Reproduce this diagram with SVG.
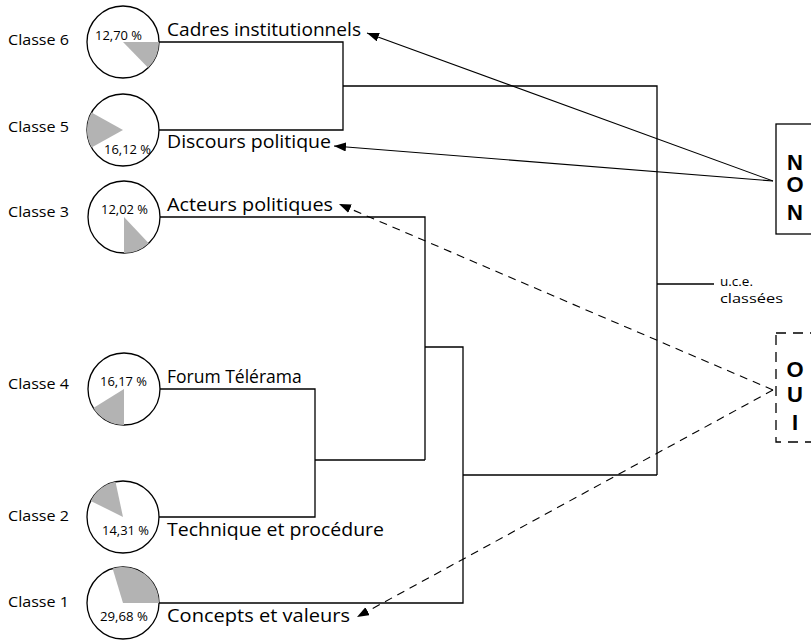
<svg xmlns="http://www.w3.org/2000/svg" width="811" height="642" viewBox="0 0 811 642">
<style>
.ln{fill:none;stroke:#000;stroke-width:1.3}
.ar{fill:none;stroke:#000;stroke-width:1.1}
.da{fill:none;stroke:#000;stroke-width:1.1;stroke-dasharray:8 6}
.pie{fill:#fff;stroke:#000;stroke-width:1.3}
.wd{fill:#b3b3b3;stroke:none}
.cl{font-family:"Open Sans","Noto Sans",sans-serif;font-size:14px;fill:#000}
.uc{font-family:"Open Sans","Noto Sans",sans-serif;font-size:13.5px;fill:#000}
.nm{font-family:"Open Sans","Noto Sans",sans-serif;font-size:17.5px;fill:#000}
.pc{font-family:"Open Sans","Noto Sans",sans-serif;font-size:12.5px;fill:#000}
.bx{font-family:"Liberation Sans",Arial,sans-serif;font-weight:bold;font-size:22px;fill:#000;text-anchor:middle}
</style>
<defs>
<marker id="ah" markerUnits="userSpaceOnUse" markerWidth="14" markerHeight="10" refX="12" refY="4.5" orient="auto">
<path d="M0,0 L12,4.5 L0,9 Z" fill="#000"/>
</marker>
</defs>
<rect width="811" height="642" fill="#fff"/>
<g id="connectors">
<path class="ln" d="M159,42 H343 V130 H159"/>
<path class="ln" d="M343,86 H657 V475"/>
<path class="ln" d="M159,217 H425 V460"/>
<path class="ln" d="M159,389 H315 V517 H159"/>
<path class="ln" d="M315,460 H425"/>
<path class="ln" d="M425,347 H463 V603 H159"/>
<path class="ln" d="M463,475 H657"/>
<path class="ln" d="M657,284 H714"/>
<line class="ar" x1="773" y1="181" x2="367" y2="33" marker-end="url(#ah)"/>
<line class="ar" x1="773" y1="181" x2="334" y2="146" marker-end="url(#ah)"/>
<line class="da" x1="773" y1="390" x2="339" y2="204" marker-end="url(#ah)"/>
<line class="da" x1="773" y1="390" x2="357" y2="617" marker-end="url(#ah)"/>
</g>
<g id="classe6">
<text class="cl" x="8" y="45" textLength="61" lengthAdjust="spacingAndGlyphs">Classe 6</text>
<circle class="pie" cx="123" cy="42" r="36"/>
<path class="wd" d="M123,42 L159,42 A36,36 0 0 1 148.1,67.8 Z"/>
<text class="pc" x="95" y="40" textLength="47" lengthAdjust="spacingAndGlyphs">12,70 %</text>
<text class="nm" x="167" y="36" textLength="194" lengthAdjust="spacingAndGlyphs">Cadres institutionnels</text>
</g>
<g id="classe5">
<text class="cl" x="8" y="132" textLength="61" lengthAdjust="spacingAndGlyphs">Classe 5</text>
<circle class="pie" cx="123" cy="130" r="36"/>
<path class="wd" d="M123,130 L91.5,147.5 A36,36 0 0 1 91.5,112.5 Z"/>
<text class="pc" x="104" y="154" textLength="47" lengthAdjust="spacingAndGlyphs">16,12 %</text>
<text class="nm" x="167" y="148" textLength="164" lengthAdjust="spacingAndGlyphs">Discours politique</text>
</g>
<g id="classe3">
<text class="cl" x="8" y="217" textLength="61" lengthAdjust="spacingAndGlyphs">Classe 3</text>
<circle class="pie" cx="124" cy="217" r="36"/>
<path class="wd" d="M124,217 L148.7,243.2 A36,36 0 0 1 124,253 Z"/>
<text class="pc" x="101" y="214" textLength="47" lengthAdjust="spacingAndGlyphs">12,02 %</text>
<text class="nm" x="167" y="211" textLength="166" lengthAdjust="spacingAndGlyphs">Acteurs politiques</text>
</g>
<g id="classe4">
<text class="cl" x="8" y="389" textLength="61" lengthAdjust="spacingAndGlyphs">Classe 4</text>
<circle class="pie" cx="124" cy="389" r="36"/>
<path class="wd" d="M124,389 L124,425 A36,36 0 0 1 93.4,408 Z"/>
<text class="pc" x="100" y="386" textLength="47" lengthAdjust="spacingAndGlyphs">16,17 %</text>
<text class="nm" x="167" y="383">Forum Télérama</text>
</g>
<g id="classe2">
<text class="cl" x="8" y="521" textLength="61" lengthAdjust="spacingAndGlyphs">Classe 2</text>
<circle class="pie" cx="123" cy="517" r="36"/>
<path class="wd" d="M123,517 L90.8,500.9 A36,36 0 0 1 115.5,481.8 Z"/>
<text class="pc" x="102" y="535" textLength="47" lengthAdjust="spacingAndGlyphs">14,31 %</text>
<text class="nm" x="167" y="536" textLength="217" lengthAdjust="spacingAndGlyphs">Technique et procédure</text>
</g>
<g id="classe1">
<text class="cl" x="8" y="607" textLength="61" lengthAdjust="spacingAndGlyphs">Classe 1</text>
<circle class="pie" cx="123" cy="603" r="36"/>
<path class="wd" d="M123,603 L112.6,568.5 A36,36 0 0 1 159,603 Z"/>
<text class="pc" x="100" y="621" textLength="48" lengthAdjust="spacingAndGlyphs">29,68 %</text>
<text class="nm" x="167" y="622" textLength="183" lengthAdjust="spacingAndGlyphs">Concepts et valeurs</text>
</g>
<g id="uce">
<text class="uc" x="720"><tspan x="720" y="286">u.c.e.</tspan><tspan x="720" y="303" textLength="63" lengthAdjust="spacingAndGlyphs">classées</tspan></text>
</g>
<g id="non">
<rect x="776" y="124" width="50" height="110" fill="#fff" stroke="#000" stroke-width="1.3"/>
<text class="bx"><tspan x="795" y="170">N</tspan><tspan x="795" y="192">O</tspan><tspan x="795" y="220">N</tspan></text>
</g>
<g id="oui">
<rect x="776" y="333" width="50" height="109" fill="#fff" stroke="#000" stroke-width="1.3" stroke-dasharray="10 7"/>
<text class="bx"><tspan x="795" y="377">O</tspan><tspan x="795" y="402">U</tspan><tspan x="795" y="430">I</tspan></text>
</g>
</svg>
